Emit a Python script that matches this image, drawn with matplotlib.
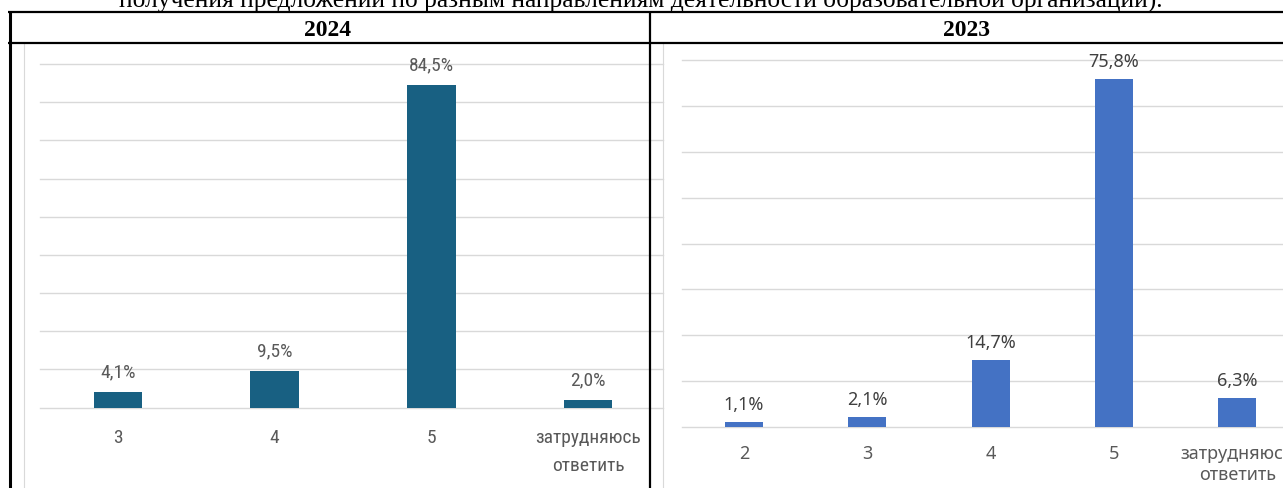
import matplotlib
matplotlib.use("Agg")
import matplotlib.pyplot as plt
from matplotlib import font_manager as fm

# ---------------- data ----------------
cats_2024 = ["3", "4", "5", "затрудняюсь\nответить"]
vals_2024 = [4.1, 9.5, 84.5, 2.0]

cats_2023 = ["2", "3", "4", "5", "затрудняюсь\nответить"]
vals_2023 = [1.1, 2.1, 14.7, 75.8, 6.3]

header_text = ("получения предложений по разным направлениям деятельности "
               "образовательной организации).")
year_left = "2024"
year_right = "2023"

# ---------------- fonts ----------------
_fonts = fm.fontManager.ttflist
_names = {f.name for f in _fonts}


def narrow_font():
    for n in ("Liberation Sans Narrow", "Arial Narrow", "Roboto Condensed",
              "Open Sans Condensed"):
        if n in _names:
            return dict(family=[n, "DejaVu Sans"])
    for f in _fonts:
        if f.stretch in ("condensed", "semi-condensed") and f.style == "normal":
            return dict(family=[f.name, "DejaVu Sans"], stretch=f.stretch)
    return dict(family=["Liberation Sans", "DejaVu Sans"])


NARROW = narrow_font()
CAL = dict(family=["Noto Sans", "DejaVu Sans"])
SERIF = dict(family=["Liberation Serif", "DejaVu Serif"])

W, H = 1283, 489
fig = plt.figure(figsize=(W / 100, H / 100), dpi=100)


def rect(l, r, top, bottom):
    return [l / W, 1 - bottom / H, (r - l) / W, (bottom - top) / H]


def fmt(v):
    return f"{v:.1f}%".replace(".", ",")


def style_axes(ax, ymax, font, cat_color, pad, linesp):
    ax.set_ylim(0, ymax)
    ax.set_yticks(range(0, ymax + 1, 10))
    ax.tick_params(axis="y", length=0, labelleft=False)
    for s in ax.spines.values():
        s.set_visible(False)
    ax.grid(axis="y", color="#d9d9d9", linewidth=1.0)
    ax.grid(axis="x", visible=False)
    for gl in ax.get_ygridlines():
        gl.set_clip_on(False)
    ax.set_axisbelow(True)
    ax.patch.set_alpha(0)
    ax.tick_params(axis="x", length=0, pad=pad)
    for t in ax.get_xticklabels():
        t.set_color(cat_color)
        t.set_linespacing(linesp)
        t.set_multialignment("center")
        t.set(**font)


# ---------------- left chart (2024) ----------------
ax1 = fig.add_axes(rect(39.6, 663, 65, 408.5))
x1 = list(range(len(cats_2024)))
ax1.bar(x1, vals_2024, width=0.31, color="#186082", zorder=2)
ax1.set_xlim(-0.5, -0.5 + (663 - 39.6) / 156.7)
ax1.set_xticks(x1, cats_2024, fontsize=14)
style_axes(ax1, 90, NARROW, "#595959", 15, 1.7)
for xi, v in zip(x1, vals_2024):
    ax1.annotate(fmt(v), (xi, v), xytext=(0, 15), textcoords="offset points",
                 ha="center", va="center", fontsize=14, color="#595959",
                 **NARROW)

# ---------------- right chart (2023) ----------------
ax2 = fig.add_axes(rect(682.4, 1283, 61, 428))
x2 = list(range(len(cats_2023)))
ax2.bar(x2, vals_2023, width=0.31, color="#4472c4", zorder=2)
ax2.set_xlim(-0.5, -0.5 + (1283 - 682.4) / 123.3)
ax2.set_xticks(x2, cats_2023, fontsize=13)
style_axes(ax2, 80, CAL, "#595959", 12, 1.25)
for xi, v in zip(x2, vals_2023):
    ax2.annotate(fmt(v), (xi, v), xytext=(0, 13), textcoords="offset points",
                 ha="center", va="center", fontsize=13, color="#404040",
                 **CAL)

# ---------------- table frame / overlay ----------------
bg = fig.add_axes([0, 0, 1, 1], zorder=10)
bg.set_xlim(0, W)
bg.set_ylim(H, 0)
bg.axis("off")
bg.patch.set_alpha(0)

# faint chart-area edges
bg.plot([24, 24], [44, H], color="#d9d9d9", lw=0.8)
bg.plot([663, 663], [44, H], color="#d9d9d9", lw=0.8)
# table lines
bg.plot([8, W], [13, 13], color="black", lw=1.6, solid_capstyle="butt")
bg.plot([8, W], [43.5, 43.5], color="black", lw=1.6, solid_capstyle="butt")
bg.plot([9.5, 9.5], [12, H], color="black", lw=2.2, solid_capstyle="butt")
bg.plot([650, 650], [12, H], color="black", lw=1.6, solid_capstyle="butt")

bg.text(641, 7, header_text, ha="center", va="baseline", fontsize=18.4,
        color="black", **SERIF)
bg.text(328, 36.5, year_left, ha="center", va="baseline", fontsize=17,
        weight="bold", color="black", **SERIF)
bg.text(966, 36.5, year_right, ha="center", va="baseline", fontsize=17,
        weight="bold", color="black", **SERIF)

fig.savefig("out.png", dpi=100, facecolor="white")
